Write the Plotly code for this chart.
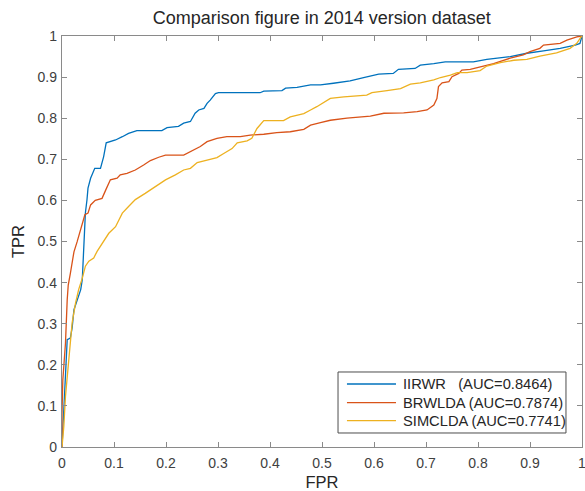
import plotly.graph_objects as go

# ---- data ----
iirwr_fpr = [0, 0.0016, 0.0035, 0.0067, 0.010, 0.016, 0.0195, 0.023, 0.031, 0.036,
             0.039, 0.042, 0.045, 0.048, 0.050, 0.055, 0.063, 0.074, 0.080, 0.085,
             0.093, 0.103, 0.116, 0.128, 0.144, 0.192, 0.202, 0.224, 0.234, 0.247,
             0.256, 0.263, 0.273, 0.279, 0.285, 0.295, 0.301, 0.381, 0.388, 0.423,
             0.430, 0.452, 0.478, 0.497, 0.522, 0.554, 0.580, 0.609, 0.637, 0.647,
             0.679, 0.689, 0.715, 0.737, 0.791, 0.817, 0.862, 0.894, 0.926, 0.958,
             0.987, 0.996, 1.0]
iirwr_tpr = [0, 0.042, 0.10, 0.18, 0.261, 0.265, 0.29, 0.334, 0.367, 0.383,
             0.407, 0.48, 0.57, 0.601, 0.63, 0.654, 0.678, 0.678, 0.706, 0.74,
             0.743, 0.747, 0.755, 0.763, 0.77, 0.77, 0.777, 0.78, 0.788, 0.792,
             0.812, 0.82, 0.824, 0.836, 0.844, 0.86, 0.862, 0.862, 0.866, 0.867,
             0.873, 0.875, 0.881, 0.881, 0.885, 0.891, 0.899, 0.907, 0.909, 0.919,
             0.921, 0.929, 0.933, 0.937, 0.937, 0.943, 0.95, 0.958, 0.964, 0.97,
             0.978, 0.982, 1.0]

brwlda_fpr = [0, 0.0, 0.0016, 0.0035, 0.0067, 0.010, 0.012, 0.016, 0.023, 0.029,
              0.036, 0.044, 0.050, 0.055, 0.064, 0.077, 0.084, 0.093, 0.106, 0.112,
              0.125, 0.141, 0.157, 0.170, 0.186, 0.199, 0.234, 0.247, 0.266, 0.279,
              0.298, 0.317, 0.343, 0.362, 0.388, 0.413, 0.439, 0.465, 0.478, 0.497,
              0.516, 0.548, 0.593, 0.619, 0.657, 0.683, 0.702, 0.715, 0.721, 0.724,
              0.731, 0.744, 0.750, 0.763, 0.769, 0.785, 0.804, 0.830, 0.862, 0.887,
              0.900, 0.919, 0.926, 0.958, 0.971, 0.990, 1.0]
brwlda_tpr = [0, 0.082, 0.163, 0.196, 0.253, 0.358, 0.394, 0.422, 0.475, 0.499,
              0.528, 0.565, 0.569, 0.589, 0.600, 0.605, 0.625, 0.650, 0.654, 0.662,
              0.666, 0.674, 0.686, 0.697, 0.705, 0.710, 0.710, 0.718, 0.731, 0.743,
              0.751, 0.755, 0.755, 0.759, 0.761, 0.765, 0.767, 0.773, 0.783, 0.789,
              0.795, 0.800, 0.805, 0.812, 0.813, 0.816, 0.820, 0.832, 0.848, 0.877,
              0.886, 0.889, 0.901, 0.909, 0.917, 0.919, 0.925, 0.933, 0.946, 0.954,
              0.962, 0.970, 0.978, 0.982, 0.990, 0.998, 1.0]

simclda_fpr = [0, 0.0035, 0.0067, 0.013, 0.0195, 0.026, 0.032, 0.039, 0.045, 0.0516,
               0.061, 0.0675, 0.077, 0.090, 0.103, 0.116, 0.128, 0.141, 0.160, 0.180,
               0.199, 0.218, 0.234, 0.247, 0.260, 0.279, 0.298, 0.311, 0.327, 0.337,
               0.356, 0.365, 0.375, 0.388, 0.426, 0.439, 0.465, 0.478, 0.490, 0.516,
               0.542, 0.586, 0.596, 0.625, 0.651, 0.670, 0.689, 0.715, 0.728, 0.747,
               0.760, 0.779, 0.804, 0.817, 0.843, 0.869, 0.894, 0.919, 0.951, 0.977,
               0.990, 0.998, 1.0]
simclda_tpr = [0, 0.05, 0.123, 0.213, 0.302, 0.35, 0.383, 0.411, 0.44, 0.452,
               0.46, 0.476, 0.496, 0.52, 0.536, 0.569, 0.585, 0.602, 0.617, 0.635,
               0.65, 0.662, 0.674, 0.678, 0.692, 0.698, 0.704, 0.714, 0.726, 0.74,
               0.745, 0.751, 0.775, 0.794, 0.794, 0.803, 0.811, 0.82, 0.828, 0.848,
               0.852, 0.856, 0.862, 0.867, 0.872, 0.883, 0.886, 0.893, 0.899, 0.905,
               0.911, 0.911, 0.916, 0.927, 0.935, 0.941, 0.943, 0.951, 0.959, 0.97,
               0.982, 0.997, 1.0]

series_names = ["IIRWR\u00a0\u00a0\u00a0(AUC=0.8464)",
                "BRWLDA (AUC=0.7874)",
                "SIMCLDA (AUC=0.7741)"]
series_colors = ["#0072BD", "#D95319", "#EDB120"]
tick_vals = [0, 0.1, 0.2, 0.3, 0.4, 0.5, 0.6, 0.7, 0.8, 0.9, 1]
tick_text = ["0", "0.1", "0.2", "0.3", "0.4", "0.5", "0.6", "0.7", "0.8", "0.9", "1"]

FONT = "Liberation Sans, Arial, sans-serif"
LINE_W = 1.3

fig = go.Figure()
for xs, ys, nm, col in zip([iirwr_fpr, brwlda_fpr, simclda_fpr],
                           [iirwr_tpr, brwlda_tpr, simclda_tpr],
                           series_names, series_colors):
    fig.add_trace(go.Scatter(x=xs, y=ys, mode="lines", name=nm,
                             line=dict(color=col, width=LINE_W), showlegend=False))

# ---- legend box (drawn in paper coordinates, MATLAB style) ----
leg_x0, leg_x1, leg_y0, leg_y1 = 0.5308, 0.9692, 0.0341, 0.1825
leg_line_x0, leg_line_x1, leg_text_x = 0.548, 0.6423, 0.652
leg_rows = [0.1533, 0.1078, 0.0640]
fig.add_shape(type="rect", xref="paper", yref="paper",
              x0=leg_x0, x1=leg_x1, y0=leg_y0, y1=leg_y1,
              line=dict(color="#4d4d4d", width=1), fillcolor="white", layer="above")
for nm, col, ry in zip(series_names, series_colors, leg_rows):
    fig.add_shape(type="line", xref="paper", yref="paper",
                  x0=leg_line_x0, x1=leg_line_x1, y0=ry, y1=ry,
                  line=dict(color=col, width=LINE_W), layer="above")
    fig.add_annotation(xref="paper", yref="paper", x=leg_text_x, y=ry,
                       xanchor="left", yanchor="middle", showarrow=False,
                       text=nm, font=dict(family=FONT, size=14.7, color="#262626"))

axis_common = dict(
    range=[0, 1], tickvals=tick_vals, ticktext=tick_text,
    showgrid=False, zeroline=False,
    showline=True, linecolor="#8a8a8a", linewidth=1.3, mirror="ticks",
    ticks="inside", ticklen=5, tickwidth=1, tickcolor="#8a8a8a",
    tickfont=dict(family=FONT, size=14, color="#404040"),
    ticklabeloverflow="allow",
)

fig.update_layout(
    width=585, height=491,
    margin=dict(l=62, r=3, t=36, b=44, autoexpand=False),
    paper_bgcolor="white", plot_bgcolor="white",
    title=dict(text="Comparison figure in 2014 version dataset",
               x=0.55, xanchor="center", y=0.963, yanchor="middle",
               font=dict(family=FONT, size=18, color="#262626")),
    xaxis=dict(axis_common, ticklabelstandoff=3,
               title=dict(text="FPR", standoff=6,
                          font=dict(family=FONT, size=16.5, color="#262626"))),
    yaxis=dict(axis_common, ticklabelstandoff=1,
               title=dict(text="TPR", standoff=8,
                          font=dict(family=FONT, size=16.5, color="#262626"))),
    showlegend=False,
)

fig.write_html("out.html",
               config={"displayModeBar": False},
               post_script="document.body.style.margin='0';document.body.style.padding='0';")
